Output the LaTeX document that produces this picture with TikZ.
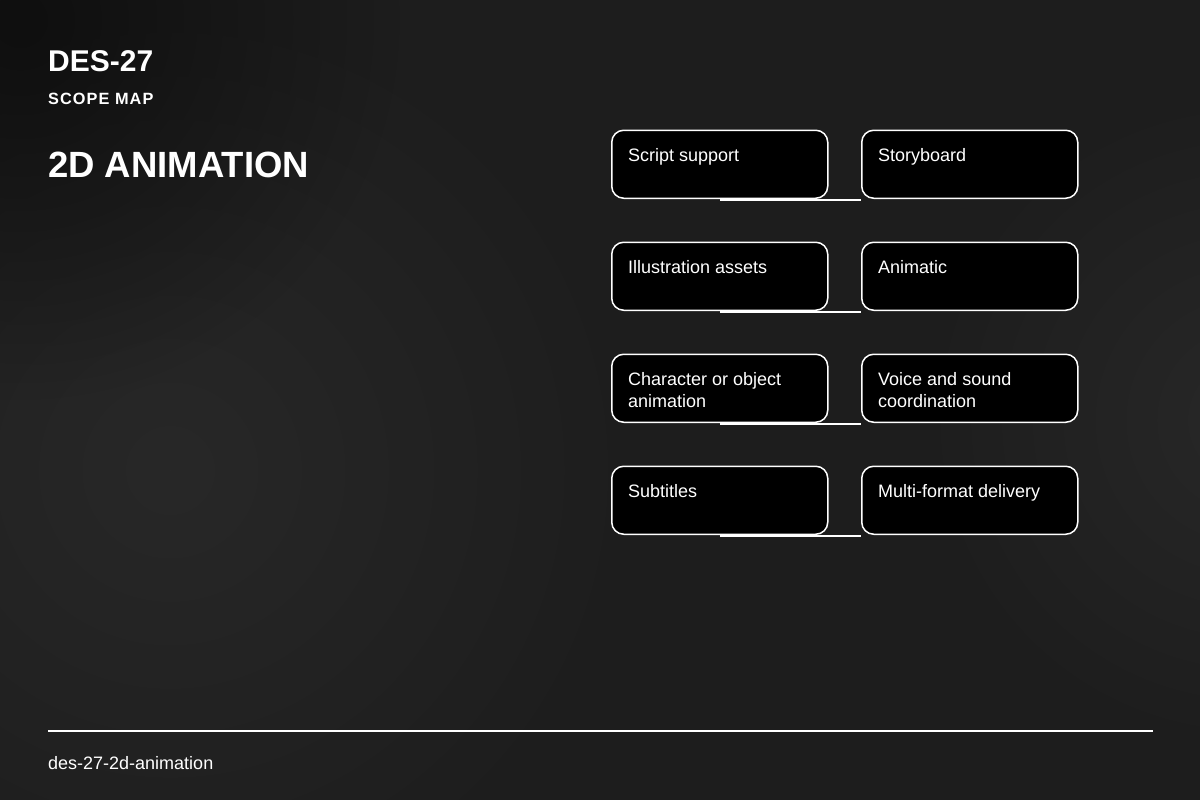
\documentclass[tikz,border=0pt]{standalone}
\usepackage{fontspec}
\setmainfont{Liberation Sans}
\usetikzlibrary{fadings}
\definecolor{bgbase}{HTML}{1D1D1D}
\definecolor{bglight}{HTML}{282828}
\definecolor{bgdark}{HTML}{0F0F0F}
\tikzfading[name=softblob, inner color=transparent!0, outer color=transparent!100]
\tikzset{
  box/.style={draw=white, line width=1.5bp, fill=black, rounded corners=12bp,
    minimum width=216bp, minimum height=68bp, inner sep=0pt, anchor=north west},
  boxtext/.style={text=white, anchor=base west, inner sep=0pt, align=left,
    font=\fontsize{18bp}{22bp}\selectfont},
  link/.style={draw=white, line width=1.5bp},
  blob/.style={path fading=softblob, fit fading=true},
}
\begin{document}
\begin{tikzpicture}[x=1bp, y=-1bp]
\useasboundingbox (0,0) rectangle (1200,800);
\fill[bgbase] (0,0) rectangle (1200,800);
\begin{scope}
\clip (0,0) rectangle (1200,800);
\fill[bglight, blob] (170,470) circle (480);
\fill[bgdark, blob] (20,20) circle (380);
\fill[bglight, blob] (1250,420) circle (340);
\end{scope}

% header
\node[text=white, anchor=base west, inner sep=0pt, font=\fontsize{30bp}{34bp}\selectfont\bfseries] (code) at (48,72) {DES-27};
\node[text=white, anchor=base west, inner sep=0pt, font=\fontsize{16.3bp}{20bp}\selectfont\bfseries\addfontfeature{LetterSpace=6.5}] (sub) at (48,104.5) {SCOPE MAP};
\node[text=white, anchor=base west, inner sep=0pt, font=\fontsize{36.5bp}{42bp}\selectfont\bfseries] (title) at (48,177) {2D ANIMATION};

% boxes
\node[box] (a1) at (611,129.5) {};
\node[box] (b1) at (861,129.5) {};
\node[box] (a2) at (611,241.5) {};
\node[box] (b2) at (861,241.5) {};
\node[box] (a3) at (611,353.5) {};
\node[box] (b3) at (861,353.5) {};
\node[box] (a4) at (611,465.5) {};
\node[box] (b4) at (861,465.5) {};

\node[boxtext] (ta1) at ([xshift=17bp,yshift=-31.5bp]a1.north west) {Script support};
\node[boxtext] (tb1) at ([xshift=17bp,yshift=-31.5bp]b1.north west) {Storyboard};
\node[boxtext] (ta2) at ([xshift=17bp,yshift=-31.5bp]a2.north west) {Illustration assets};
\node[boxtext] (tb2) at ([xshift=17bp,yshift=-31.5bp]b2.north west) {Animatic};
\node[boxtext, anchor=north west] (ta3) at ([xshift=17bp,yshift=-18.5bp]a3.north west) {Character or object\\animation};
\node[boxtext, anchor=north west] (tb3) at ([xshift=17bp,yshift=-18.5bp]b3.north west) {Voice and sound\\coordination};
\node[boxtext] (ta4) at ([xshift=17bp,yshift=-31.5bp]a4.north west) {Subtitles};
\node[boxtext] (tb4) at ([xshift=17bp,yshift=-31.5bp]b4.north west) {Multi-format delivery};

% connectors
\foreach \i in {1,2,3,4}{
  \draw[link] ([yshift=-1bp]a\i.south) -- ([yshift=-1bp]a\i.south -| b\i.west);
}

% footer
\coordinate (fl) at (48,731);
\coordinate (fr) at (1153,731);
\draw[white, line width=2bp] (fl) -- (fr);
\node[text=white, anchor=base west, inner sep=0pt, font=\fontsize{18bp}{22bp}\selectfont] (foot) at (48,769) {des-27-2d-animation};
\end{tikzpicture}
\end{document}
